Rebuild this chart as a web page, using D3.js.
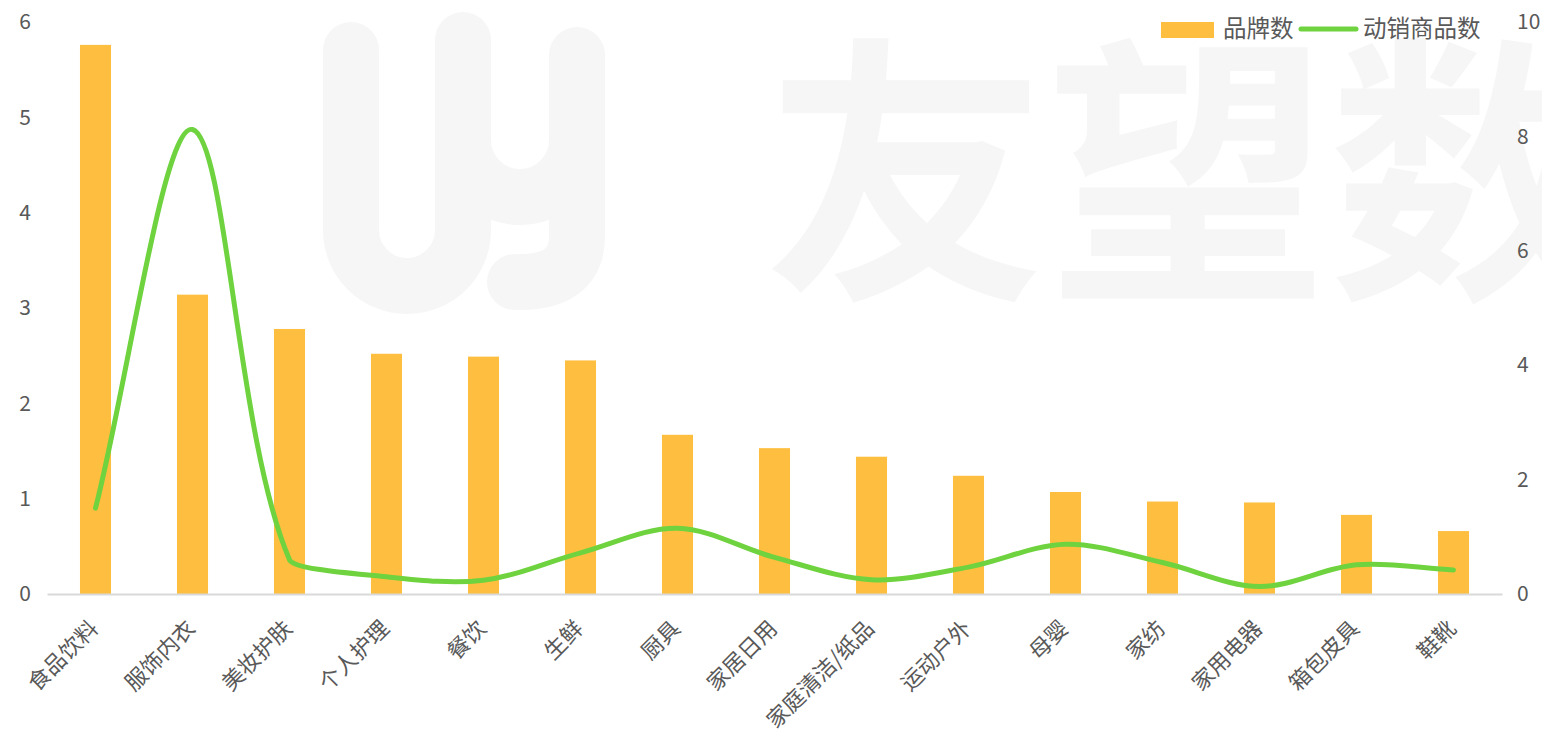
<!DOCTYPE html>
<html>
<head>
<meta charset="utf-8">
<script src="https://cdn.jsdelivr.net/npm/d3@7"></script>
<style>
  body { margin: 0; background: #fff; }
  svg text { font-family: "Noto Sans CJK SC", "Noto Sans", sans-serif; fill: #595959; }
</style>
</head>
<body>
<script>
var categories = ["食品饮料", "服饰内衣", "美妆护肤", "个人护理", "餐饮", "生鲜", "厨具", "家居日用",
    "家庭清洁/纸品", "运动户外", "母婴", "家纺", "家用电器", "箱包皮具", "鞋靴"];
var brandCounts = [5.76, 3.14, 2.78, 2.52, 2.49, 2.45, 1.67, 1.53, 1.44, 1.24, 1.07, 0.97, 0.96, 0.83, 0.66];
var salesCounts = [1.5, 8.12, 0.6, 0.3, 0.24, 0.72, 1.15, 0.64, 0.25, 0.47, 0.87, 0.55, 0.13, 0.51, 0.42];
var leftTicks = [0, 1, 2, 3, 4, 5, 6];
var rightTicks = [0, 2, 4, 6, 8, 10];
var seriesNames = ["品牌数", "动销商品数"];

var width = 1542,
    height = 735,
    plotLeft = 47,
    plotRight = 1502,
    plotTop = 22,
    plotBottom = 594;

var barColor = "#febe3f",
    lineColor = "#6fd33f";

var svg = d3.select("body")
    .append("svg")
    .attr("width", width)
    .attr("height", height);

// watermark behind everything
var wm = svg.append("g").attr("class", "watermark");
wm.append("text")
    .attr("x", 765)
    .attr("y", 278)
    .style("font-size", "282px")
    .style("font-weight", "bold")
    .style("fill", "#f6f6f6")
    .text("友望数");
wm.selectAll("path")
    .data([
        "M351,50 V230 A56,56 0 0 0 463,230 V40",
        "M463,140 A57,57 0 0 0 577,140",
        "M577,55 V236 Q577,284 515,282"
    ])
    .enter().append("path")
    .attr("d", function(d) { return d; })
    .attr("fill", "none")
    .attr("stroke", "#f6f6f6")
    .attr("stroke-width", 56)
    .attr("stroke-linecap", "round");

var x = d3.scaleBand()
    .domain(categories)
    .range([plotLeft, plotRight])
    .paddingInner(0.68)
    .paddingOuter(0.34);

var yLeft = d3.scaleLinear().domain([0, 6]).range([plotBottom, plotTop]);
var yRight = d3.scaleLinear().domain([0, 10]).range([plotBottom, plotTop]);

// bars
svg.append("g")
    .selectAll("rect")
    .data(brandCounts)
    .enter().append("rect")
    .attr("x", function(d, i) { return x(categories[i]); })
    .attr("y", function(d) { return yLeft(d); })
    .attr("width", x.bandwidth())
    .attr("height", function(d) { return plotBottom - yLeft(d); })
    .attr("fill", barColor);

// category axis
var xAxis = svg.append("g")
    .attr("transform", "translate(0," + plotBottom + ")")
    .call(d3.axisBottom(x).tickSize(0).tickSizeOuter(0));
xAxis.select(".domain").attr("stroke", "#d9d9d9").attr("stroke-width", 2);
xAxis.selectAll("text")
    .attr("y", 0)
    .attr("dy", 0)
    .attr("transform", "translate(4,36) rotate(-45)")
    .style("text-anchor", "end")
    .style("font-size", "22px")
    .attr("fill", "#595959");

// left axis
var yAxisL = svg.append("g")
    .attr("transform", "translate(31,0)")
    .call(d3.axisLeft(yLeft).tickValues(leftTicks).tickFormat(d3.format("d")).tickSize(0).tickPadding(0));
yAxisL.select(".domain").remove();
yAxisL.selectAll("text").style("font-size", "21px").attr("fill", "#595959");

// right axis
var yAxisR = svg.append("g")
    .attr("transform", "translate(1517,0)")
    .call(d3.axisRight(yRight).tickValues(rightTicks).tickFormat(d3.format("d")).tickSize(0).tickPadding(0));
yAxisR.select(".domain").remove();
yAxisR.selectAll("text").style("font-size", "21px").attr("fill", "#595959");

// smoothed line, excel-like bezier: tangent parallel to neighbours,
// arm shrinks on the short side of a point
var pts = salesCounts.map(function(d, i) {
    return [x(categories[i]) + x.bandwidth() / 2, yRight(d)];
});
function dist(a, b) { return Math.hypot(b[0] - a[0], b[1] - a[1]); }
function arm(r) { return r <= 0.5 ? (2 / 3) * r * r : r / 3; }
var p = d3.path();
p.moveTo(pts[0][0], pts[0][1]);
for (var i = 0; i < pts.length - 1; i++) {
    var p0 = pts[Math.max(i - 1, 0)],
        p1 = pts[i],
        p2 = pts[i + 1],
        p3 = pts[Math.min(i + 2, pts.length - 1)];
    var d01 = dist(p0, p1), d12 = dist(p1, p2), d23 = dist(p2, p3);
    var f1 = arm(d12 / (d01 + d12)),
        f2 = arm(d12 / (d12 + d23));
    p.bezierCurveTo(
        p1[0] + (p2[0] - p0[0]) * f1, p1[1] + (p2[1] - p0[1]) * f1,
        p2[0] - (p3[0] - p1[0]) * f2, p2[1] - (p3[1] - p1[1]) * f2,
        p2[0], p2[1]);
}

svg.append("path")
    .attr("d", p.toString())
    .attr("fill", "none")
    .attr("stroke", lineColor)
    .attr("stroke-width", 5)
    .attr("stroke-linecap", "round");

// legend
var legend = svg.append("g");
legend.append("rect")
    .attr("x", 1161).attr("y", 22)
    .attr("width", 53).attr("height", 16)
    .attr("fill", barColor);
legend.append("text")
    .attr("x", 1223).attr("y", 37)
    .style("font-size", "23.5px")
    .text(seriesNames[0]);
legend.append("line")
    .attr("x1", 1301).attr("x2", 1356)
    .attr("y1", 29).attr("y2", 29)
    .attr("stroke", lineColor)
    .attr("stroke-width", 5)
    .attr("stroke-linecap", "round");
legend.append("text")
    .attr("x", 1363).attr("y", 37)
    .style("font-size", "23.5px")
    .text(seriesNames[1]);
</script>
</body>
</html>
